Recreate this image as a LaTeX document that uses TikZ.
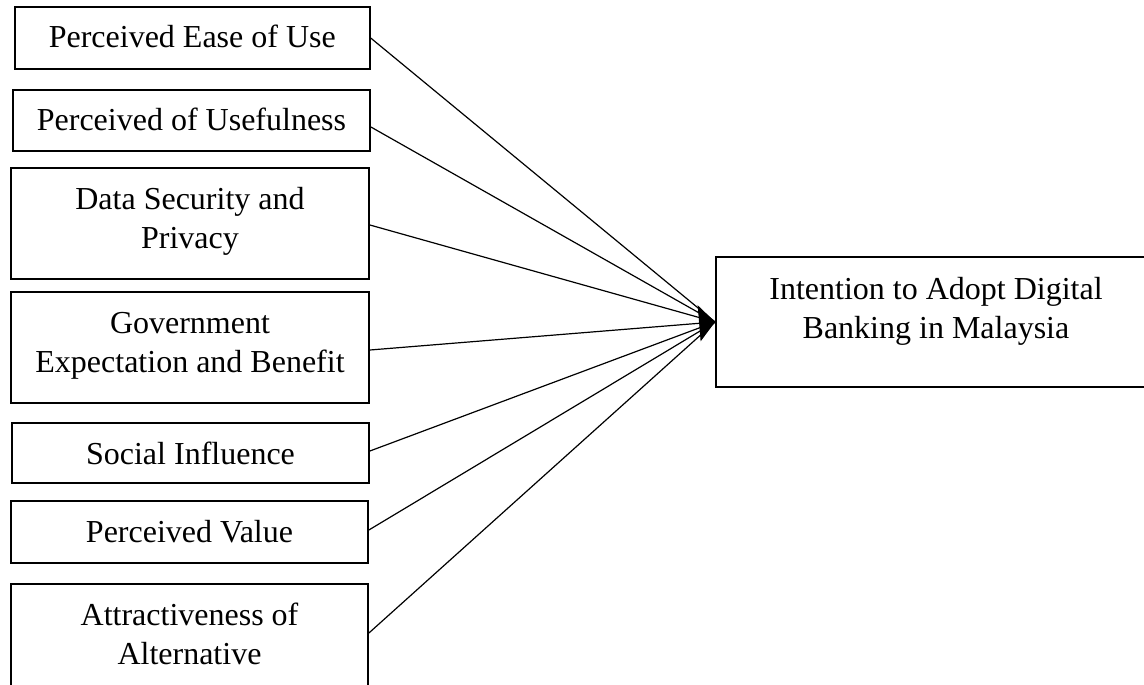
\documentclass[tikz,border=0pt]{standalone}
\usepackage{fontspec}
\setmainfont{Liberation Serif}
\usetikzlibrary{arrows.meta}
\begin{document}
\begin{tikzpicture}[x=1pt, y=-1pt,
  factor/.style={draw, line width=1.8pt, inner sep=0pt, align=center,
    text height=41pt, font=\fontsize{32}{39}\selectfont},
  twoline/.style={text height=80pt},
  link/.style={line width=1.2pt}]
% page frame; the last factor box and the outcome box run past its edges
\fill[white] (0,0) rectangle (1144,685);
\useasboundingbox (0,0) rectangle (1144,685);
\clip (0,0) rectangle (1144,685);

% factors
\node[factor, minimum width=355pt, minimum height=62pt, text depth=21pt]
  (b1) at (192.3,38) {Perceived Ease of Use};
\node[factor, minimum width=357pt, minimum height=61pt, text depth=20pt]
  (b2) at (191.5,120.5) {Perceived of Usefulness};
\node[factor, twoline, minimum width=358pt, minimum height=111pt, text depth=31pt]
  (b3) at (190,223.5) {Data Security and\\Privacy};
\node[factor, twoline, minimum width=358pt, minimum height=111pt, text depth=31pt]
  (b4) at (190,347.5) {Government\\Expectation and Benefit};
\node[factor, minimum width=357pt, minimum height=60pt, text depth=19pt]
  (b5) at (190.5,453) {Social Influence};
\node[factor, minimum width=357pt, minimum height=62pt, text depth=21pt]
  (b6) at (189.5,532) {Perceived Value};
\node[factor, twoline, minimum width=357pt, minimum height=111pt, text depth=31pt]
  (b7) at (189.5,639.5) {Attractiveness of\\Alternative};

% outcome
\node[factor, minimum width=440pt, minimum height=130pt, text height=81pt, text depth=49pt]
  (dv) at (936,322) {Intention to Adopt Digital\\Banking in Malaysia};

% paths into the outcome
\draw[link] (b1.east) -- (dv.west);
\draw[link] ([yshift=-6.5pt]b2.east) -- (dv.west);
\draw[link] ([yshift=-1.5pt]b3.east) -- (dv.west);
\draw[link, -{Triangle[length=16pt, width=36pt]}] ([yshift=-2.5pt]b4.east) -- (dv.west);
\draw[link] ([yshift=2pt]b5.east) -- (dv.west);
\draw[link] ([yshift=2pt]b6.east) -- (dv.west);
\draw[link] ([yshift=6.5pt]b7.east) -- (dv.west);
\end{tikzpicture}
\end{document}
